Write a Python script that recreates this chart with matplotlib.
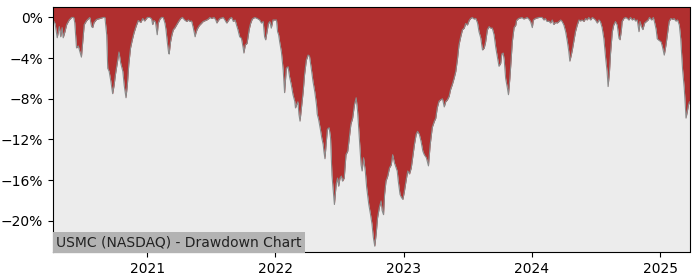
import matplotlib
matplotlib.use("Agg")
import matplotlib.pyplot as plt
import matplotlib.dates as mdates
import pandas as pd

title = "USMC (NASDAQ) - Drawdown Chart"

dates = [
    "2020-04-07", "2020-04-13", "2020-04-19", "2020-04-25", "2020-04-29", "2020-05-03", "2020-05-06",
    "2020-05-11", "2020-05-16", "2020-05-23", "2020-05-30", "2020-06-05", "2020-06-08", "2020-06-13",
    "2020-06-18", "2020-06-23", "2020-06-27", "2020-06-30", "2020-07-05", "2020-07-12", "2020-07-21",
    "2020-07-26", "2020-07-29", "2020-08-02", "2020-08-09", "2020-08-19", "2020-08-28", "2020-09-02",
    "2020-09-07", "2020-09-10", "2020-09-14", "2020-09-19", "2020-09-24", "2020-09-28", "2020-10-02",
    "2020-10-08", "2020-10-12", "2020-10-17", "2020-10-23", "2020-10-27", "2020-11-01", "2020-11-05",
    "2020-11-09", "2020-11-14", "2020-11-19", "2020-11-24", "2020-11-30", "2020-12-06", "2020-12-13",
    "2020-12-19", "2020-12-24", "2021-01-01", "2021-01-08", "2021-01-13", "2021-01-16", "2021-01-20",
    "2021-01-24", "2021-01-29", "2021-02-01", "2021-02-06", "2021-02-10", "2021-02-15", "2021-02-20",
    "2021-02-23", "2021-02-27", "2021-03-02", "2021-03-04", "2021-03-08", "2021-03-12", "2021-03-16",
    "2021-03-20", "2021-03-25", "2021-03-31", "2021-04-06", "2021-04-11", "2021-04-17", "2021-04-23",
    "2021-04-28", "2021-05-02", "2021-05-07", "2021-05-12", "2021-05-17", "2021-05-19", "2021-05-23",
    "2021-05-29", "2021-06-05", "2021-06-09", "2021-06-19", "2021-06-24", "2021-06-28", "2021-07-03",
    "2021-07-10", "2021-07-15", "2021-07-18", "2021-07-22", "2021-07-27", "2021-08-05", "2021-08-10",
    "2021-08-15", "2021-08-20", "2021-08-24", "2021-08-29", "2021-09-03", "2021-09-08", "2021-09-12",
    "2021-09-16", "2021-09-21", "2021-09-26", "2021-10-01", "2021-10-03", "2021-10-07", "2021-10-12",
    "2021-10-15", "2021-10-18", "2021-10-22", "2021-10-27", "2021-11-03", "2021-11-10", "2021-11-17",
    "2021-11-22", "2021-11-27", "2021-12-01", "2021-12-04", "2021-12-08", "2021-12-12", "2021-12-16",
    "2021-12-20", "2021-12-25", "2021-12-30", "2022-01-04", "2022-01-07", "2022-01-10", "2022-01-13",
    "2022-01-18", "2022-01-23", "2022-01-27", "2022-02-01", "2022-02-06", "2022-02-10", "2022-02-15",
    "2022-02-20", "2022-02-25", "2022-02-27", "2022-03-02", "2022-03-06", "2022-03-09", "2022-03-12",
    "2022-03-16", "2022-03-21", "2022-03-25", "2022-03-30", "2022-04-04", "2022-04-08", "2022-04-13",
    "2022-04-18", "2022-04-23", "2022-04-28", "2022-04-30", "2022-05-04", "2022-05-09", "2022-05-13",
    "2022-05-17", "2022-05-19", "2022-05-22", "2022-05-26", "2022-05-29", "2022-06-03", "2022-06-07",
    "2022-06-11", "2022-06-18", "2022-06-23", "2022-06-27", "2022-06-30", "2022-07-04", "2022-07-08",
    "2022-07-11", "2022-07-16", "2022-07-21", "2022-07-26", "2022-07-31", "2022-08-04", "2022-08-09",
    "2022-08-14", "2022-08-19", "2022-08-23", "2022-08-28", "2022-09-02", "2022-09-05", "2022-09-09",
    "2022-09-14", "2022-09-18", "2022-09-24", "2022-09-29", "2022-10-03", "2022-10-07", "2022-10-11",
    "2022-10-15", "2022-10-19", "2022-10-24", "2022-10-29", "2022-11-01", "2022-11-05", "2022-11-08",
    "2022-11-12", "2022-11-17", "2022-11-22", "2022-11-27", "2022-12-01", "2022-12-06", "2022-12-11",
    "2022-12-14", "2022-12-17", "2022-12-22", "2022-12-26", "2022-12-30", "2023-01-03", "2023-01-08",
    "2023-01-13", "2023-01-18", "2023-01-23", "2023-01-27", "2023-02-01", "2023-02-06", "2023-02-10",
    "2023-02-15", "2023-02-20", "2023-02-25", "2023-03-01", "2023-03-07", "2023-03-13", "2023-03-18",
    "2023-03-24", "2023-03-30", "2023-04-03", "2023-04-07", "2023-04-12", "2023-04-17", "2023-04-22",
    "2023-04-27", "2023-05-01", "2023-05-06", "2023-05-11", "2023-05-15", "2023-05-20", "2023-05-25",
    "2023-05-30", "2023-06-04", "2023-06-08", "2023-06-13", "2023-06-18", "2023-06-23", "2023-06-27",
    "2023-07-02", "2023-07-07", "2023-07-11", "2023-07-16", "2023-07-21", "2023-07-26", "2023-07-31",
    "2023-08-04", "2023-08-09", "2023-08-14", "2023-08-19", "2023-08-23", "2023-08-28", "2023-09-02",
    "2023-09-06", "2023-09-11", "2023-09-16", "2023-09-21", "2023-09-26", "2023-09-30", "2023-10-05",
    "2023-10-08", "2023-10-12", "2023-10-15", "2023-10-19", "2023-10-24", "2023-10-27", "2023-10-31",
    "2023-11-04", "2023-11-07", "2023-11-12", "2023-11-17", "2023-11-19", "2023-11-25", "2023-12-05",
    "2023-12-09", "2023-12-14", "2023-12-19", "2023-12-24", "2023-12-29", "2024-01-03", "2024-01-06",
    "2024-01-12", "2024-01-22", "2024-01-31", "2024-02-05", "2024-02-09", "2024-02-14", "2024-02-19",
    "2024-02-24", "2024-02-29", "2024-03-04", "2024-03-09", "2024-03-14", "2024-03-19", "2024-03-24",
    "2024-03-28", "2024-04-02", "2024-04-07", "2024-04-12", "2024-04-16", "2024-04-19", "2024-04-23",
    "2024-04-26", "2024-04-30", "2024-05-05", "2024-05-10", "2024-05-15", "2024-05-19", "2024-05-24",
    "2024-05-29", "2024-06-03", "2024-06-07", "2024-06-12", "2024-06-17", "2024-06-22", "2024-06-26",
    "2024-07-01", "2024-07-06", "2024-07-11", "2024-07-15", "2024-07-20", "2024-07-25", "2024-07-30",
    "2024-08-03", "2024-08-06", "2024-08-10", "2024-08-13", "2024-08-18", "2024-08-22", "2024-08-27",
    "2024-09-01", "2024-09-06", "2024-09-09", "2024-09-13", "2024-09-15", "2024-09-20", "2024-09-25",
    "2024-09-30", "2024-10-04", "2024-10-09", "2024-10-14", "2024-10-19", "2024-10-23", "2024-10-28",
    "2024-11-02", "2024-11-05", "2024-11-09", "2024-11-13", "2024-11-18", "2024-11-23", "2024-11-28",
    "2024-12-02", "2024-12-08", "2024-12-13", "2024-12-17", "2024-12-21", "2024-12-24", "2024-12-29",
    "2025-01-04", "2025-01-08", "2025-01-13", "2025-01-18", "2025-01-23", "2025-01-27", "2025-02-01",
    "2025-02-06", "2025-02-10", "2025-02-15", "2025-02-20", "2025-02-25", "2025-03-01", "2025-03-06",
    "2025-03-11", "2025-03-14", "2025-03-16", "2025-03-20", "2025-03-23", "2025-03-26",
]

drawdown = [
    -0.25, -0.6, -2.0, -0.9, -1.9, -1.0, -2.0,
    -1.4, -0.7, -0.25, 0.0, 0.0, -0.5, -3.0,
    -2.8, -3.4, -3.9, -2.7, -0.7, -0.3, 0.0,
    -0.9, -1.0, -0.5, -0.2, -0.1, 0.0, 0.0,
    -1.7, -5.0, -5.3, -6.3, -7.5, -6.7, -5.6,
    -4.3, -3.4, -4.5, -5.3, -6.7, -7.9, -6.6,
    -4.6, -3.0, -2.2, -1.5, -0.85, -0.3, -0.5,
    -0.1, -0.35, 0.0, 0.0, -0.15, -0.7, -0.3,
    -0.45, -1.7, -0.55, -0.15, 0.0, 0.0, -0.55,
    -1.2, -2.5, -3.35, -3.6, -2.4, -1.7, -1.2,
    -1.05, -0.75, -0.4, -0.1, 0.0, -0.25, -0.4,
    -0.25, -0.4, -0.35, -1.05, -1.9, -1.55, -1.15,
    -0.8, -0.55, -0.4, -0.25, -0.15, 0.0, -0.1,
    0.0, -0.25, -0.55, -0.3, -0.1, 0.0, -0.25,
    -0.55, -0.3, -0.1, 0.0, -0.4, -0.25, -0.75,
    -1.2, -1.9, -2.05, -3.0, -3.5, -2.7, -2.55,
    -1.9, -1.2, -0.6, -0.15, 0.0, -0.1, -0.25,
    -0.55, -0.4, -1.9, -2.2, -1.4, -0.6, -0.4,
    -1.05, -0.25, -0.25, -0.25, -1.4, -1.7, -2.4,
    -3.4, -5.15, -7.4, -5.0, -4.85, -5.8, -6.6,
    -7.6, -8.25, -8.9, -8.6, -8.3, -9.55, -10.2,
    -8.9, -7.3, -5.6, -4.2, -3.7, -3.8, -5.0,
    -6.3, -7.3, -8.6, -9.5, -10.05, -11.0, -11.85,
    -12.5, -13.15, -13.9, -12.2, -11.0, -10.85, -11.85,
    -15.5, -18.4, -16.4, -15.8, -16.6, -15.8, -15.6,
    -16.1, -15.8, -13.5, -13.15, -11.7, -10.5, -9.9,
    -8.6, -7.9, -9.2, -11.85, -14.5, -15.1, -13.8,
    -15.1, -16.75, -18.4, -19.4, -20.3, -21.65, -22.5,
    -21.3, -19.7, -18.7, -18.05, -19.0, -19.4, -17.4,
    -16.1, -15.6, -14.8, -14.5, -13.5, -14.3, -14.8,
    -15.1, -16.1, -17.4, -17.7, -17.9, -17.2, -16.1,
    -15.1, -15.4, -14.8, -13.8, -12.5, -11.5, -11.2,
    -11.5, -12.2, -13.15, -13.5, -13.8, -14.6, -12.5,
    -10.8, -10.2, -9.9, -8.9, -8.25, -8.1, -8.0,
    -8.8, -8.3, -8.1, -7.75, -7.1, -6.6, -6.0,
    -5.3, -4.0, -2.7, -1.9, -1.2, -1.05, -0.6,
    -0.75, -0.3, -0.1, 0.0, -0.15, -0.1, -0.55,
    -1.4, -2.0, -3.2, -3.0, -2.4, -1.2, -0.9,
    -1.05, -1.05, -1.7, -3.0, -4.0, -4.8, -4.5,
    -3.6, -3.5, -4.2, -6.0, -6.95, -7.6, -6.0,
    -4.0, -2.4, -1.0, -0.75, -0.3, -0.1, 0.0,
    -0.15, -0.1, 0.0, -0.15, -0.4, -1.0, -0.25,
    -0.1, 0.0, 0.0, -0.25, -0.1, -0.4, -0.35,
    -0.55, -0.25, -0.7, -0.5, -0.55, -0.4, -0.25,
    -0.4, -0.75, -1.4, -2.4, -3.35, -4.3, -3.7,
    -3.2, -2.4, -1.4, -0.75, -0.25, -0.35, -0.25,
    -0.4, -0.1, -0.25, 0.0, -0.25, 0.0, -0.1,
    -0.25, -0.55, -0.25, -0.4, -1.0, -2.1, -4.0,
    -5.3, -6.8, -5.3, -3.5, -1.4, -0.75, -0.4,
    -0.75, -2.05, -2.2, -1.2, -0.4, -0.1, 0.0,
    -0.1, -0.25, 0.0, -0.25, -0.1, -0.35, -0.25,
    -1.4, -0.4, -0.9, -1.2, -0.55, -0.4, -0.25,
    0.0, -0.25, 0.0, -0.55, -1.2, -2.1, -2.25,
    -2.4, -2.9, -3.7, -2.7, -1.4, -0.4, -0.1,
    -0.2, -0.1, -0.35, -0.25, -0.75, -2.1, -5.0,
    -6.95, -8.6, -9.9, -9.2, -8.6, -8.3,
]

y_ticks = [0, -4, -8, -12, -16, -20]
x_tick_years = [2021, 2022, 2023, 2024, 2025]

x = pd.to_datetime(dates)

fig = plt.figure(figsize=(7, 2.8), dpi=100)
ax = fig.add_axes([0.0757, 0.099, 0.9093, 0.875])
ax.set_facecolor("#ececec")

top = 1.0
ax.fill_between(x, drawdown, top, color="#b02f2f", linewidth=0)
ax.plot(x, drawdown, color="#8a8a8a", linewidth=0.8)

ax.set_xlim(x[0], x[-1])
ax.set_ylim(-23.1, top)
ax.set_yticks(y_ticks)
ax.set_yticklabels([f"{v}%".replace("-", "\u2212") for v in y_ticks])
ax.set_xticks(pd.to_datetime([f"{y}-01-01" for y in x_tick_years]))
ax.xaxis.set_major_formatter(mdates.DateFormatter("%Y"))
ax.tick_params(labelsize=10)

ax.text(0.005, 0.012, title, transform=ax.transAxes, ha="left", va="bottom",
        fontsize=10, color="#222222",
        bbox=dict(facecolor="#b3b3b3", edgecolor="none", pad=2.5))

fig.savefig("out.png", dpi=100)
